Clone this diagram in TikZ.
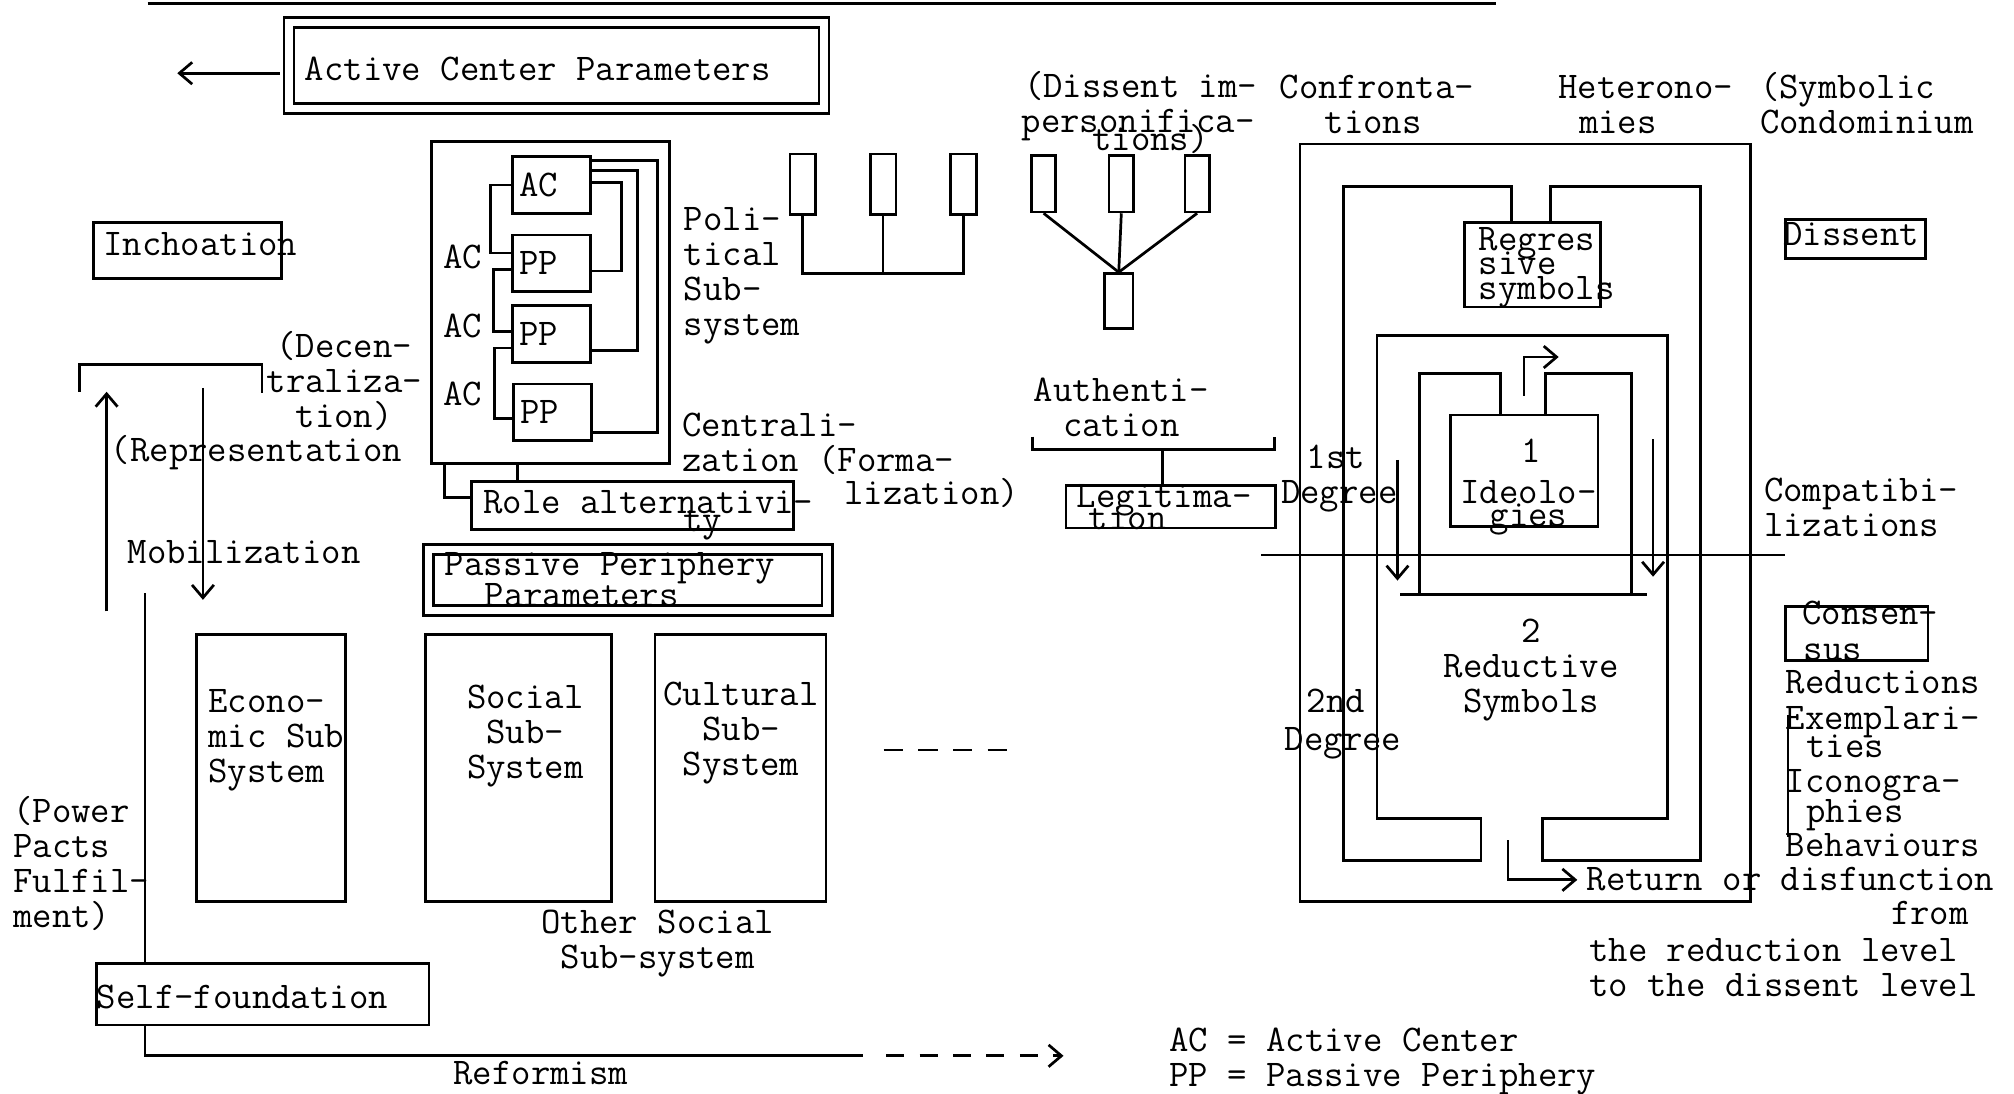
\documentclass[tikz,border=0pt]{standalone}
\usepackage{fontspec}
\usetikzlibrary{arrows.meta,positioning,calc}
\tikzset{
 lbl/.style={font={\fontsize{16.7}{15.5}\selectfont\ttfamily\lineskiplimit=-50pt},inner sep=0pt,anchor=base west,align=left},
 lblc/.style={lbl,anchor=base,align=center},
 tight/.style={lbl,font={\fontsize{16.7}{10.8}\selectfont\ttfamily\lineskiplimit=-50pt}},
 ln/.style={line width=1.2pt},
 blk/.style 2 args={draw,ln,inner sep=0pt,minimum width=#1*0.02cm,minimum height=#2*0.02cm},
 dbl/.style 2 args={blk={#1}{#2},double,double distance=3.3pt},
 cell/.style={draw,ln,lbl,anchor=center,minimum height=0.88cm,text width=1cm,inner xsep=0.11cm,inner ysep=0pt},
 arr/.style={ln,-{Straight Barb[length=2mm,width=3.4mm]}}
}
\begin{document}
\begin{tikzpicture}[x=0.02cm,y=-0.02cm]
\fill[white] (0,0) rectangle (1568,851);
\useasboundingbox (0,0) rectangle (1568,851);
\draw[ln] (115,3)--(1165,3);
% active center
\node[dbl={416.5}{67}] (acp) at (433.25,51) {};
\node[lbl] (acptxt) at (237,63) {Active Center Parameters};
\coordinate (acpend) at (138,57);
\draw[arr] (acp.west |- acpend) ++(-6,0)--(acpend);
\node[blk={146}{44}] (inch) at (146,195) {};
\node[lbl] (inchtxt) at (80,199) {Inchoation};
% left column
\draw[ln] (62,305)--(62,284)--(204,284)--(204,306);
\node[lblc] (decen) at (268,333) {(Decen-\\traliza-\\tion)};
\coordinate (repA) at (83,476); \coordinate (repB) at (83,305);
\coordinate (mobA) at (158,302); \coordinate (mobB) at (158,467);
\draw[arr] (repA)--(repB);
\draw[arr] (mobA)--(mobB);
\node[lbl] (rep) at (86,359) {(Representation};
\node[lbl] (mob) at (99,439) {Mobilization};
\node[lbl] (power) at (10,722) {(Power\\Pacts\\Fulfil-\\ment)};
\node[blk={259}{48}] (sf) at (204.5,774) {};
\node[lbl] (sftxt) at (75,785) {Self-foundation};
\coordinate (refA) at (113,462); \coordinate (refB) at (113,822);
\coordinate (refC) at (672,822); \coordinate (refD) at (828,822);
\draw[ln] (refA)--(refA |- sf.north);
\draw[ln] (refA |- sf.south)--(refB)--(refC);
\draw[arr,dash pattern=on 0.28cm off 0.24cm] (refC) ++(18,0)--(refD);
\node[lblc] (reform) at (421,844) {Reformism};
% political subsystem
\node[blk={185}{251}] (pol) at (428.5,235.5) {};
\node[cell] (ac0) at (429.5,144) {AC};
\node[cell] (pp1) at (429.5,205) {PP};
\node[cell] (pp2) at (429.5,260) {PP};
\node[cell] (pp3) at (430,321) {PP};
\foreach \n/\y in {1/209,2/263,3/316} \node[lbl] (acl\n) at (345,\y) {AC};
\draw[ln] (ac0.west)--++(-16,0) |- ([yshift=0.16cm]pp1.west);
\draw[ln] ([yshift=-0.1cm]pp1.west)--++(-14,0) |- ([yshift=0.04cm]pp2.west);
\draw[ln] ([yshift=-0.22cm]pp2.west)--++(-13,0) |- ([yshift=-0.1cm]pp3.west);
\draw[ln] ([yshift=0.38cm]ac0.east)--++(51,0) |- ([yshift=-0.32cm]pp3.east);
\draw[ln] ([yshift=0.22cm]ac0.east)--++(35,0) |- ([yshift=-0.26cm]pp2.east);
\draw[ln] ([yshift=0.04cm]ac0.east)--++(23,0) |- ([yshift=-0.12cm]pp1.east);
\node[lbl] (poltxt) at (532,261) {Poli-\\tical\\Sub-\\system};
\node[lbl] (centr) at (531,367) {Centrali-\\zation (Forma-};
\node[lbl] (formal) at (657,393) {lization)};
\node[blk={251}{37}] (role) at (492.5,393.5) {};
\node[lbl] (roletxt) at (376,400) {Role alternativi-};
\node[lblc] (roletwo) at (547,414) {ty};
\draw[ln] ([xshift=0.22cm]pol.south west) |- ([yshift=0.12cm]role.west);
\coordinate (rl) at (403,0);
\draw[ln] (pol.south -| rl)--(role.north -| rl);
\node[dbl={310.5}{47.5}] (ppp) at (488.75,451.75) {};
\node[lbl] (ppptxt) at (346,448) {Passive Periphery};
\node[lbl] (pppsec) at (377,472) {Parameters};
% subsystems
\node[blk={116}{208}] (eco) at (211,598) {};
\node[blk={145}{208}] (soc) at (403.5,598) {};
\node[blk={133}{208}] (cul) at (576.5,598) {};
\node[lbl] (ecotxt) at (162,609) {Econo-\\mic Sub\\System};
\node[lblc] (soctxt) at (409,606) {Social\\Sub-\\System};
\node[lblc] (cultxt) at (577,604) {Cultural\\Sub-\\System};
\node[lblc] (othtxt) at (512,754) {Other Social\\Sub-system};
\coordinate (mdA) at (688,584); \coordinate (mdB) at (792,584);
\draw[ln,dash pattern=on 0.3cm off 0.24cm] (mdA)--(mdB);
% small boxes
\foreach \n/\x in {r1/625,r2/687.5,r3/750} \node[blk={20}{47}] (\n) at (\x,143.5) {};
\draw[ln] (r1.south)--++(0,45) -| (r3.south);
\draw[ln] (r2.south)--++(0,45);
\foreach \n/\x in {d1/812.5,d2/873,d3/932} \node[blk={19}{44}] (\n) at (\x,143) {};
\node[blk={22}{43}] (dj) at (871,234.5) {};
\foreach \n in {d1,d2,d3} \draw[ln] (\n.south)--(dj.north);
\node[lbl] (dis1) at (797,76) {(Dissent im-};
\node[lbl] (dis2) at (795,103) {personifica-};
\node[lbl] (dis3) at (850,117) {tions)};
\node[lblc] (auth) at (873,340) {Authenti-\\cation};
\node[blk={163}{33}] (legit) at (911.5,394.5) {};
\node[lbl] (legtxt) at (838,395) {Legitima-};
\node[lblc] (legtwo) at (878,412) {tion};
\coordinate (authj) at (905,350);
\draw[ln] (804,340)--(804,350)--(992,350)--(992,340);
\draw[ln] (authj)--(legit.north -| authj);
% symbolic frames
\node[blk={351}{590}] (conf) at (1187.5,407) {};
\node[blk={106}{66}] (regr) at (1193,206) {};
\draw[ln] (1177,173)--(1177,145)--(1046,145)--(1046,670)--(1153,670)--(1153,637)--(1072,637)--(1072,261)--(1298,261)--(1298,637)--(1201,637)--(1201,670)--(1324,670)--(1324,145)--(1207,145)--(1207,173);
\node[blk={115}{87}] (ideo) at (1186.5,366.5) {};
\draw[ln] (1168,323)--(1168,291)--(1105,291)--(1105,463);
\draw[ln] (1203,323)--(1203,291)--(1270,291)--(1270,463);
\draw[ln] (1090,463)--(1282,463);
\draw[arr] ([yshift=0.28cm]ideo.north)--++(0,-30)--++(27,0);
\coordinate (dlA) at (1088,358); \coordinate (dlB) at (1088,452);
\coordinate (drA) at (1287,342); \coordinate (drB) at (1287,449);
\draw[arr] (dlA)--(dlB);
\draw[arr] (drA)--(drB);
\coordinate (hzA) at (982,432); \coordinate (hzB) at (1390,432);
\draw[ln] (hzA)--(hzB);
\node[tight] (regtxt) at (1151,233) {Regres\\sive\\symbols};
\node[lblc] (one) at (1192,360) {1};
\node[lblc] (ideotxt) at (1190,392) {Ideolo-};
\node[lblc] (ideotwo) at (1190,410) {gies};
\node[lblc] (redtxt) at (1192,555) {2\\Reductive\\Symbols};
\node[lbl] (deg1) at (1017,365) {1st};
\node[lbl] (deg1b) at (997,392) {Degree};
\node[lbl] (deg2) at (1017,555) {2nd};
\node[lbl] (deg2b) at (1000,584) {Degree};
\coordinate (retA) at (1174,654); \coordinate (retB) at (1228,685);
\draw[arr] (retA) |- (retB);
\node[lbl] (ret) at (1235,693) {Return or disfunction};
\node[lbl] (retfrom) at (1472,720) {from};
\node[lbl] (retlev) at (1237,776) {the reduction level\\to the dissent level};
\node[lbl] (conftxt) at (996,77) {Confronta-};
\node[lbl] (conftwo) at (1031,104) {tions};
\node[lbl] (hettxt) at (1213,77) {Heterono-};
\node[lbl] (hettwo) at (1229,104) {mies};
\node[lbl] (symtxt) at (1370,104) {(Symbolic\\Condominium};
% right column
\node[blk={109}{30}] (dissent) at (1444.5,186) {};
\node[lbl] (distxt) at (1388,191) {Dissent};
\node[lbl] (compat) at (1373,418) {Compatibi-\\lizations};
\node[blk={111}{42}] (cons) at (1445.5,493) {};
\node[lbl] (constxt) at (1403,486) {Consen-};
\node[lbl] (constwo) at (1404,514) {sus};
\node[lbl] (reduc) at (1390,540) {Reductions};
\node[lbl] (exem) at (1390,568) {Exemplari-};
\node[lbl] (exemb) at (1406,590) {ties};
\node[lbl] (icon) at (1390,617) {Iconogra-};
\node[lbl] (iconb) at (1406,640) {phies};
\node[lbl] (behav) at (1390,667) {Behaviours};
\draw[ln] (1392,557)--(1392,652);
% legend
\node[lbl] (leg1) at (910,819) {AC = Active Center};
\node[lbl] (leg2) at (910,846) {PP = Passive Periphery};
\end{tikzpicture}
\end{document}
